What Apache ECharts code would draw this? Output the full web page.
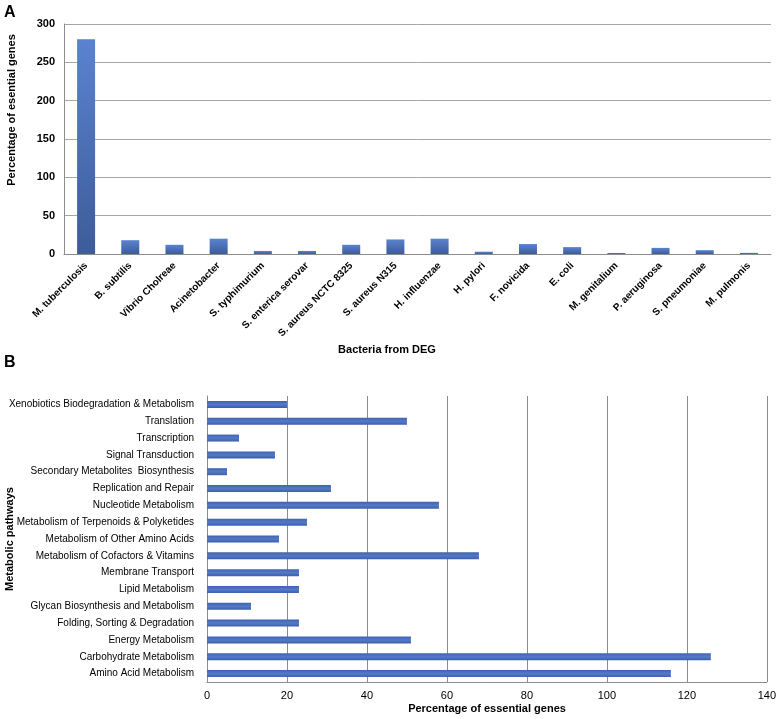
<!DOCTYPE html>
<html>
<head>
<meta charset="utf-8">
<script src="https://cdn.jsdelivr.net/npm/echarts@6/dist/echarts.min.js"></script>
<style>
  html, body { margin: 0; padding: 0; background: #fff; }
  #chart { width: 779px; height: 719px; }
</style>
</head>
<body>
<div id="chart"></div>
<script>
// panel A: essential genes per bacterium
var bacteria = ["M. tuberculosis", "B. subtilis", "Vibrio Cholreae", "Acinetobacter", "S. typhimurium",
  "S. enterica serovar", "S. aureus NCTC 8325", "S. aureus N315", "H. influenzae", "H. pylori",
  "F. novicida", "E. coli", "M. genitalium", "P. aeruginosa", "S. pneumoniae", "M. pulmonis"];
var bacteriaValues = [280, 18, 12, 20, 4, 4, 12, 19, 20, 3, 13, 9, 1.3, 8, 5, 1.5];
var yTicksA = [0, 50, 100, 150, 200, 250, 300];

// panel B: metabolic pathways (bottom to top)
var pathways = ["Amino Acid Metabolism", "Carbohydrate Metabolism", "Energy Metabolism",
  "Folding, Sorting & Degradation", "Glycan Biosynthesis and Metabolism", "Lipid Metabolism",
  "Membrane Transport", "Metabolism of Cofactors & Vitamins", "Metabolism of Other Amino Acids",
  "Metabolism of Terpenoids & Polyketides", "Nucleotide Metabolism", "Replication and Repair",
  "Secondary Metabolites  Biosynthesis", "Signal Transduction", "Transcription", "Translation",
  "Xenobiotics Biodegradation & Metabolism"];
var pathwayValues = [116, 126, 51, 23, 11, 23, 23, 68, 18, 25, 58, 31, 5, 17, 8, 50, 20];
var xTicksB = [0, 20, 40, 60, 80, 100, 120, 140];

var FONT = "Liberation Sans, Arial, sans-serif";

var chart = echarts.init(document.getElementById("chart"));

var option = {
  animation: false,
  textStyle: { fontFamily: FONT },
  grid: [
    { left: 64, top: 24, right: 8, height: 230 },
    { left: 207, top: 396, right: 12, height: 286 }
  ],
  xAxis: [
    {
      gridIndex: 0,
      type: "category",
      data: bacteria,
      axisLine: { lineStyle: { color: "#8c8c8c" } },
      axisTick: { show: false },
      axisLabel: {
        interval: 0, rotate: 45, margin: 10,
        fontFamily: FONT, fontSize: 10, fontWeight: "bold", color: "#000"
      }
    },
    {
      gridIndex: 1,
      type: "value",
      min: xTicksB[0], max: xTicksB[xTicksB.length - 1], interval: 20,
      axisLine: { show: true, lineStyle: { color: "#8c8c8c" } },
      axisTick: { show: false },
      splitLine: { lineStyle: { color: "#8c8c8c" } },
      axisLabel: { fontFamily: FONT, fontSize: 11, color: "#000", margin: 8 }
    }
  ],
  yAxis: [
    {
      gridIndex: 0,
      type: "value",
      min: yTicksA[0], max: yTicksA[yTicksA.length - 1], interval: 50,
      axisLine: { show: true, lineStyle: { color: "#8c8c8c" } },
      axisTick: { show: false },
      splitLine: { lineStyle: { color: "#a6a6a6" } },
      axisLabel: { fontFamily: FONT, fontSize: 11, fontWeight: "bold", color: "#000", margin: 9 }
    },
    {
      gridIndex: 1,
      type: "category",
      data: pathways,
      axisLine: { show: true, lineStyle: { color: "#8c8c8c" } },
      axisTick: { show: false },
      axisLabel: { interval: 0, fontFamily: FONT, fontSize: 10, color: "#000", margin: 13 }
    }
  ],
  series: [
    {
      type: "bar",
      xAxisIndex: 0, yAxisIndex: 0,
      data: bacteriaValues,
      barWidth: 18,
      itemStyle: {
        color: new echarts.graphic.LinearGradient(0, 0, 0, 1, [
          { offset: 0, color: "#5a83cf" },
          { offset: 1, color: "#3d5c98" }
        ])
      }
    },
    {
      type: "bar",
      xAxisIndex: 1, yAxisIndex: 1,
      data: pathwayValues,
      barWidth: 7,
      itemStyle: {
        color: new echarts.graphic.LinearGradient(0, 0, 0, 1, [
          { offset: 0, color: "#3f63b0" },
          { offset: 0.5, color: "#5479c6" },
          { offset: 1, color: "#3d60ab" }
        ])
      }
    }
  ],
  graphic: [
    { type: "text", left: 4, top: 5, style: { text: "A", font: "bold 16px " + FONT, fill: "#000" } },
    { type: "text", left: 4, top: 355, style: { text: "B", font: "bold 16px " + FONT, fill: "#000" } },
    {
      type: "text", x: 12, y: 110, rotation: Math.PI / 2,
      style: { text: "Percentage of esential genes", font: "bold 11px " + FONT, fill: "#000",
        align: "center", verticalAlign: "middle" }
    },
    {
      type: "text", x: 387, y: 350,
      style: { text: "Bacteria from DEG", font: "bold 11px " + FONT, fill: "#000",
        align: "center", verticalAlign: "middle" }
    },
    {
      type: "text", x: 10, y: 539, rotation: Math.PI / 2,
      style: { text: "Metabolic pathways", font: "bold 11px " + FONT, fill: "#000",
        align: "center", verticalAlign: "middle" }
    },
    {
      type: "text", x: 487, y: 709,
      style: { text: "Percentage of essential genes", font: "bold 11px " + FONT, fill: "#000",
        align: "center", verticalAlign: "middle" }
    }
  ]
};

chart.setOption(option);
</script>
</body>
</html>
